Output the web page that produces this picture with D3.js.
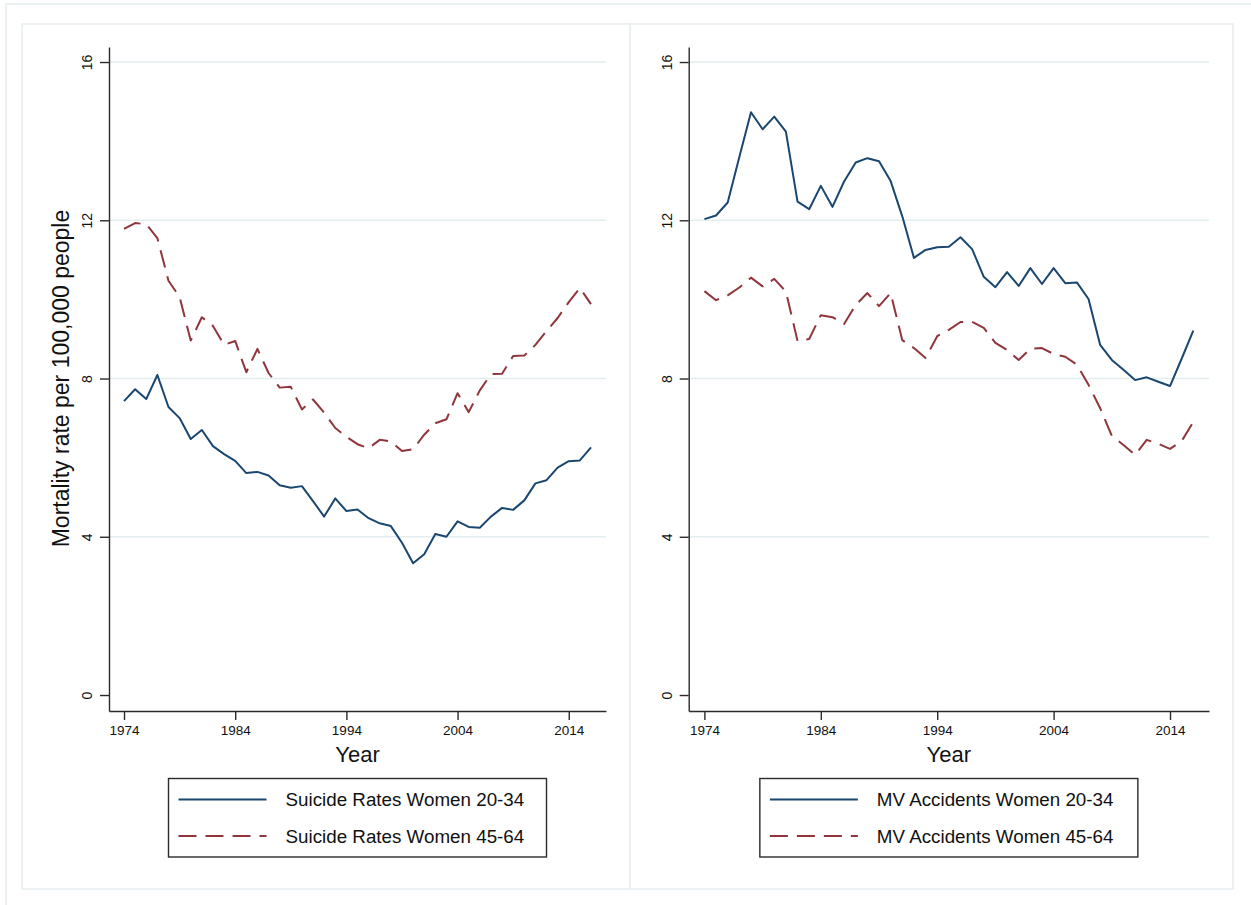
<!DOCTYPE html>
<html>
<head>
<meta charset="utf-8">
<script src="https://cdn.jsdelivr.net/npm/d3@7"></script>
<style>
  body { margin: 0; background: #fff; }
  text { font-family: "Liberation Sans", Arial, Helvetica, sans-serif; fill: #111; }
</style>
</head>
<body>
<div id="container"></div>
<script>
let w = 1251;
let h = 905;

// data
let years = [1974,1975,1976,1977,1978,1979,1980,1981,1982,1983,1984,1985,1986,1987,1988,1989,
  1990,1991,1992,1993,1994,1995,1996,1997,1998,1999,2000,2001,2002,2003,2004,2005,2006,2007,
  2008,2009,2010,2011,2012,2013,2014,2015,2016];

let suicideYoung = [7.43,7.73,7.48,8.09,7.28,7.0,6.47,6.7,6.29,6.09,5.92,5.61,5.64,5.55,5.30,5.24,
  5.28,4.9,4.51,4.97,4.65,4.69,4.47,4.34,4.27,3.85,3.33,3.56,4.07,4.0,4.39,4.25,4.23,4.51,
  4.73,4.68,4.92,5.35,5.43,5.75,5.91,5.93,6.26];
let suicideOld = [11.78,11.93,11.9,11.55,10.47,10.06,8.96,9.55,9.33,8.85,8.95,8.16,8.75,8.14,7.77,7.79,
  7.22,7.47,7.14,6.75,6.53,6.34,6.24,6.45,6.41,6.17,6.21,6.58,6.87,6.97,7.63,7.15,7.7,8.11,
  8.12,8.57,8.58,8.85,9.2,9.53,9.93,10.29,9.88];

let mvYoung = [12.03,12.12,12.45,13.6,14.73,14.3,14.62,14.24,12.47,12.28,12.87,12.34,12.98,13.46,13.57,13.49,
  12.99,12.1,11.05,11.25,11.32,11.33,11.57,11.27,10.57,10.31,10.69,10.34,10.79,10.39,10.79,10.41,10.43,10.01,
  8.85,8.47,8.22,7.96,8.03,7.92,7.81,8.5,9.21];
let mvOld = [10.21,9.98,10.1,10.3,10.55,10.33,10.52,10.2,8.95,9.0,9.6,9.55,9.38,9.86,10.16,9.83,
  10.16,8.97,8.77,8.52,9.07,9.23,9.43,9.43,9.28,8.9,8.72,8.47,8.75,8.77,8.62,8.55,8.35,7.84,
  7.25,6.55,6.32,6.07,6.45,6.35,6.22,6.42,6.9];

let xTicks = [1974,1984,1994,2004,2014];
let yTicks = [0,4,8,12,16];
let leftNames = ["Suicide Rates Women 20-34", "Suicide Rates Women 45-64"];
let rightNames = ["MV Accidents Women 20-34", "MV Accidents Women 45-64"];

let navy = "#1a476f";
let maroon = "#90353b";
let frameColor = "#e6eef0";
let gridColor = "#e3edef";
let axisColor = "#2b2b2b";
let dash = "18,9";

let viz = d3.select("#container")
  .append("svg")
    .attr("width", w)
    .attr("height", h)
    .style("background-color", "white")
;

// outer frame (only top/left edges visible in the picture)
viz.append("rect")
  .attr("x", 6).attr("y", 4)
  .attr("width", w + 20).attr("height", h + 20)
  .attr("fill", "none").attr("stroke", frameColor).attr("stroke-width", 1.5);

function drawPanel(px, pw, plotLeft, plotRight, seriesA, seriesB, names, yTitle){
  let top = 47, bottom = 711;

  viz.append("rect")
    .attr("x", px).attr("y", 24)
    .attr("width", pw).attr("height", 865)
    .attr("fill", "white").attr("stroke", frameColor).attr("stroke-width", 1.5);

  let xScale = d3.scaleLinear().domain([1972.65, 2017.35]).range([plotLeft, plotRight]);
  let yScale = d3.scaleLinear().domain([-0.404, 16.38]).range([bottom, top]);

  let g = viz.append("g");

  // gridlines
  g.selectAll(".grid").data(yTicks.filter(d => d > 0)).enter()
    .append("line")
      .attr("x1", plotLeft).attr("x2", plotRight)
      .attr("y1", d => yScale(d)).attr("y2", d => yScale(d))
      .attr("stroke", gridColor).attr("stroke-width", 1.5);

  // y axis
  let yAxis = g.append("g")
    .attr("transform", "translate(" + plotLeft + ",0)")
    .call(d3.axisLeft(yScale).tickValues(yTicks).tickSize(9).tickSizeOuter(0));
  yAxis.select(".domain").attr("stroke", axisColor).attr("stroke-width", 1.4);
  yAxis.selectAll(".tick line").attr("stroke", axisColor).attr("stroke-width", 1.4);
  yAxis.selectAll(".tick text")
    .attr("transform", "rotate(-90)")
    .attr("x", 0).attr("y", -17).attr("dy", 0)
    .attr("text-anchor", "middle")
    .style("font-size", "14px")
    .style("fill", "#111");

  // x axis
  let xAxis = g.append("g")
    .attr("transform", "translate(0," + bottom + ")")
    .call(d3.axisBottom(xScale).tickValues(xTicks).tickFormat(d3.format("d")).tickSize(9).tickSizeOuter(0));
  xAxis.select(".domain").attr("stroke", axisColor).attr("stroke-width", 1.4);
  xAxis.selectAll(".tick line").attr("stroke", axisColor).attr("stroke-width", 1.4);
  xAxis.selectAll(".tick text")
    .attr("y", 14)
    .style("font-size", "13.5px")
    .style("fill", "#111");

  let mid = (plotLeft + plotRight) / 2;
  g.append("text")
    .text("Year")
    .attr("x", mid).attr("y", 762)
    .attr("text-anchor", "middle")
    .style("font-size", "22px");

  if (yTitle) {
    g.append("text")
      .text(yTitle)
      .attr("transform", "translate(69," + yScale(8) + ") rotate(-90)")
      .attr("text-anchor", "middle")
      .style("font-size", "23px");
  }

  let line = d3.line()
    .x((d, i) => xScale(years[i]))
    .y(d => yScale(d));

  g.append("path")
    .datum(seriesB)
    .attr("d", line)
    .attr("fill", "none").attr("stroke", maroon).attr("stroke-width", 2)
    .attr("stroke-dasharray", dash).attr("stroke-linejoin", "round");

  g.append("path")
    .datum(seriesA)
    .attr("d", line)
    .attr("fill", "none").attr("stroke", navy).attr("stroke-width", 2)
    .attr("stroke-linejoin", "round");

  // legend
  let lw = 378, lx = mid - lw / 2;
  let legend = g.append("g");
  legend.append("rect")
    .attr("x", lx).attr("y", 778.5)
    .attr("width", lw).attr("height", 78.5)
    .attr("fill", "white").attr("stroke", axisColor).attr("stroke-width", 1.4);

  let rows = [{name: names[0], color: navy, dash: null, y: 799.5},
              {name: names[1], color: maroon, dash: dash, y: 836}];
  rows.forEach(function(r){
    legend.append("line")
      .attr("x1", lx + 10).attr("x2", lx + 98)
      .attr("y1", r.y).attr("y2", r.y)
      .attr("stroke", r.color).attr("stroke-width", 2)
      .attr("stroke-dasharray", r.dash);
    legend.append("text")
      .text(r.name)
      .attr("x", lx + 117).attr("y", r.y)
      .attr("dy", "0.36em")
      .style("font-size", "18.8px");
  });
}

drawPanel(22, 608, 109, 606, suicideYoung, suicideOld, leftNames, "Mortality rate per 100,000 people");
drawPanel(630, 603, 688.7, 1209, mvYoung, mvOld, rightNames, null);
</script>
</body>
</html>
